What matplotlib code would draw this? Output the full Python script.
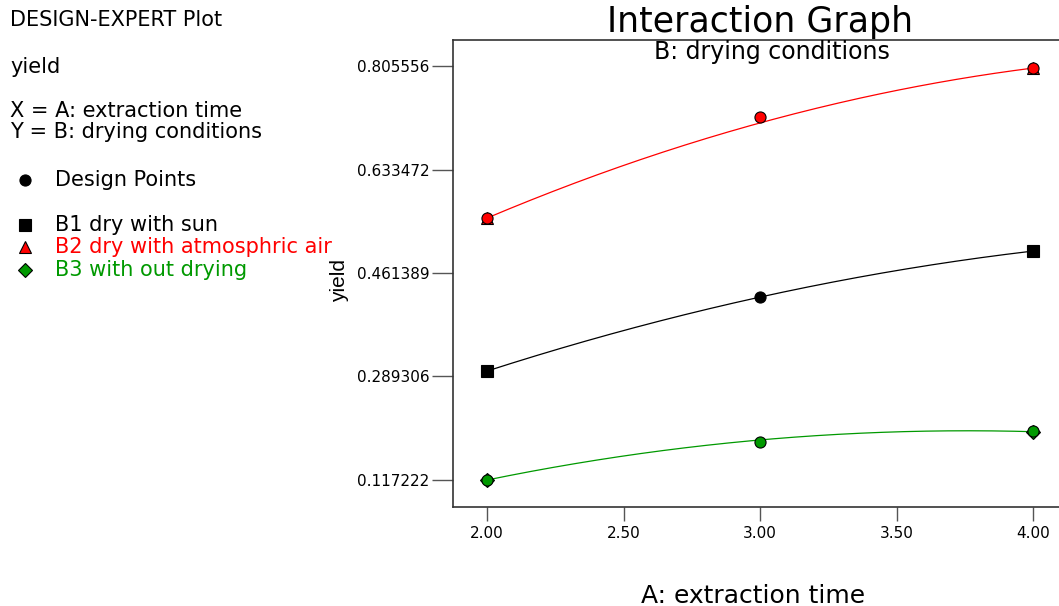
import numpy as np
import matplotlib.pyplot as plt

plt.rcParams['font.family'] = ['DejaVu Sans']

# factor levels and values
a_levels = [2.0, 3.0, 4.0]
x_ticks = [2.00, 2.50, 3.00, 3.50, 4.00]
y_ticks = [0.117222, 0.289306, 0.461389, 0.633472, 0.805556]

# model predictions at the three levels (curves are quadratic in A)
pred_b1 = [0.2984, 0.4214, 0.4979]
pred_b2 = [0.5528, 0.7110, 0.8022]
pred_b3 = [0.1172, 0.1838, 0.1975]

# design points
dp_b1 = [0.2984, 0.4214, 0.4979]
dp_b2 = [0.5528, 0.7207, 0.8022]
dp_b3 = [0.1172, 0.1804, 0.1987]

red = '#ff0000'
green = '#009900'

fig = plt.figure(figsize=(10.59, 6.06), dpi=100)
ax = fig.add_axes([453 / 1059, 99 / 606, 0.58, 467 / 606])

xx = np.linspace(2, 4, 200)
series = [(pred_b1, dp_b1, 'black', 's'),
          (pred_b2, dp_b2, red, '^'),
          (pred_b3, dp_b3, green, 'D')]
for pred, dp, col, mk in series:
    c = np.polyfit(a_levels, pred, 2)
    ax.plot(xx, np.polyval(c, xx), color=col, lw=0.9)
    ends = [a_levels[0], a_levels[-1]]
    ax.plot(ends, [pred[0], pred[-1]], ls='none', marker=mk, ms=9 if mk != 'D' else 7,
            mfc=col, mec='black', mew=0.8)
    ax.plot(a_levels, dp, ls='none', marker='o', ms=8, mfc=col, mec='black', mew=0.8)

ax.set_xlim(1.875, 4.1245)
ax.set_ylim(0.0723, 0.8488)
ax.set_xticks(x_ticks)
ax.set_xticklabels([f'{v:.2f}' for v in x_ticks], fontsize=11)
ax.set_yticks(y_ticks)
ax.set_yticklabels([f'{v:.6f}' for v in y_ticks], fontsize=11)
ax.tick_params(axis='y', direction='out', length=15, width=1, color='#555555', pad=2)
ax.tick_params(axis='x', direction='out', length=10, width=1, color='#555555', pad=4)
for s in ['left', 'bottom', 'top']:
    ax.spines[s].set_linewidth(1.2)
    ax.spines[s].set_color('#333333')
ax.spines['right'].set_visible(False)

ax.text(0.52, 1.0, 'B: drying conditions', transform=ax.transAxes,
        ha='center', va='top', fontsize=17)
fig.text(760 / 1059, 1 - 22 / 606, 'Interaction Graph', ha='center', va='center', fontsize=25)
fig.text(753 / 1059, 1 - 596 / 606, 'A: extraction time', ha='center', va='center', fontsize=18)
fig.text(340 / 1059, 1 - 280 / 606, 'yield', ha='center', va='center', fontsize=15,
         rotation=90, family='Liberation Sans')

# left-hand information panel
fs = 15
fig.text(10 / 1059, 1 - 20 / 606, 'DESIGN-EXPERT Plot', va='center', fontsize=fs)
fig.text(10 / 1059, 1 - 67 / 606, 'yield', va='center', fontsize=fs)
fig.text(10 / 1059, 1 - 111 / 606, 'X = A: extraction time', va='center', fontsize=fs)
fig.text(10 / 1059, 1 - 132 / 606, 'Y = B: drying conditions', va='center', fontsize=fs)

legend_items = [('Design Points', 'o', 'black', 180),
                ('B1 dry with sun', 's', 'black', 225),
                ('B2 dry with atmosphric air', '^', red, 247),
                ('B3 with out drying', 'D', green, 270)]
for label, mk, col, ypx in legend_items:
    yf = 1 - ypx / 606
    fig.lines.append(plt.Line2D([25 / 1059], [yf], transform=fig.transFigure, ls='none',
                                marker=mk, ms=8 if mk != 'D' else 7, mfc=col,
                                mec='black', mew=0.8))
    fig.text(55 / 1059, yf, label, va='center', fontsize=fs,
             color=col if label != 'Design Points' else 'black')

fig.savefig('out.png', dpi=100)
